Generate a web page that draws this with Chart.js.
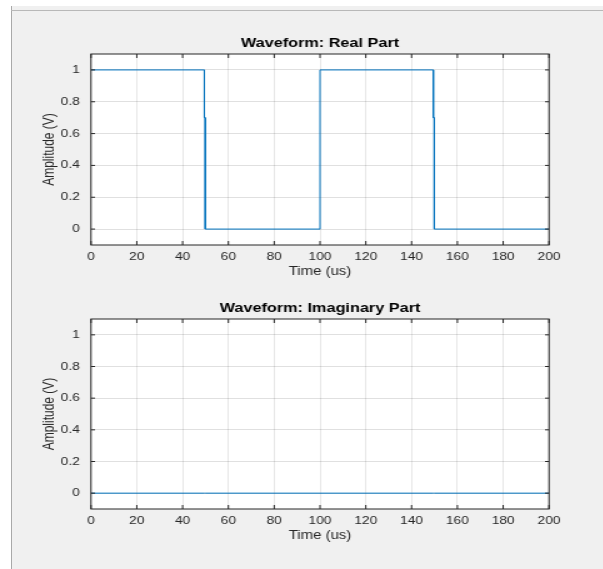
<!DOCTYPE html>
<html>
<head>
<meta charset="utf-8">
<script src="https://cdn.jsdelivr.net/npm/chart.js@4/dist/chart.umd.min.js"></script>
<style>
  html, body { margin: 0; padding: 0; background: #ffffff; width: 603px; height: 569px; overflow: hidden; position: relative; }
  #frame { position: absolute; left: 11px; top: 6px; width: 592px; height: 563px; background: #f0f0f0; border-left: 1px solid #a9a9a9; box-sizing: border-box; }
  #topline { position: absolute; left: 11px; top: 10px; width: 592px; height: 1px; background: #b8b8b8; }
  .wrap { position: absolute; left: 0; transform: scaleX(1.25); transform-origin: 0 0; }
  #w1 { top: 0; width: 483px; height: 285px; }
  #w2 { top: 285px; width: 483px; height: 284px; }
</style>
</head>
<body>
<div id="frame"></div>
<div id="topline"></div>
<div class="wrap" id="w1"><canvas id="c1" width="483" height="285"></canvas></div>
<div class="wrap" id="w2"><canvas id="c2" width="483" height="284"></canvas></div>
<script>
// ---- data ----
const timeUs   = [0, 49.5, 49.5, 49.9, 49.9, 100, 100, 149.5, 149.5, 149.9, 149.9, 200];
const realPart = [1, 1,    0.7,  0.7,  0,    0,   1,   1,     0.7,   0.7,   0,     0];
const imagPart = [0, 0,    0,    0,    0,    0,   0,   0,     0,     0,     0,     0];
const xTicks = [0, 20, 40, 60, 80, 100, 120, 140, 160, 180, 200];
const yTicks = [0, 0.2, 0.4, 0.6, 0.8, 1];
const chartTitles = ['Waveform: Real Part', 'Waveform: Imaginary Part'];
const xAxisTitle = 'Time (us)';
const yAxisTitle = 'Amplitude (V)';

const FONT = '"Liberation Sans", Arial, Helvetica, sans-serif';
const AXC = '#262626';

const plotDeco = {
  id: 'plotDeco',
  beforeDraw(chart) {
    const {ctx, chartArea: a} = chart;
    ctx.save();
    ctx.fillStyle = '#ffffff';
    ctx.fillRect(a.left, a.top, a.right - a.left, a.bottom - a.top);
    ctx.restore();
  },
  afterDraw(chart, args, opts) {
    const {ctx, chartArea: a, scales} = chart;
    ctx.save();
    ctx.strokeStyle = AXC;
    ctx.lineWidth = 1;
    ctx.strokeRect(a.left, a.top, a.right - a.left, a.bottom - a.top);
    ctx.beginPath();
    const tl = 4;
    scales.x.ticks.forEach(t => {
      const px = scales.x.getPixelForValue(t.value);
      ctx.moveTo(px, a.bottom); ctx.lineTo(px, a.bottom - tl);
      ctx.moveTo(px, a.top); ctx.lineTo(px, a.top + tl);
    });
    scales.y.ticks.forEach(t => {
      const py = scales.y.getPixelForValue(t.value);
      ctx.moveTo(a.left, py); ctx.lineTo(a.left + tl * 0.8, py);
      ctx.moveTo(a.right, py); ctx.lineTo(a.right - tl * 0.8, py);
    });
    ctx.stroke();
    ctx.fillStyle = '#000000';
    ctx.font = 'bold 13px ' + FONT;
    ctx.textAlign = 'center';
    ctx.textBaseline = 'middle';
    ctx.fillText(opts.title, (a.left + a.right) / 2, a.top - 11);
    ctx.restore();
  }
};

function makeChart(id, yValues, title, pad) {
  const pts = timeUs.map((t, i) => ({x: t, y: yValues[i]}));
  return new Chart(document.getElementById(id), {
    type: 'line',
    data: { datasets: [{ data: pts, borderColor: '#0072BD', borderWidth: 1, pointRadius: 0, tension: 0, fill: false }] },
    plugins: [plotDeco],
    options: {
      responsive: false,
      animation: false,
      events: [],
      layout: { padding: pad },
      plugins: { legend: { display: false }, tooltip: { enabled: false }, title: { display: false }, plotDeco: { title: title } },
      scales: {
        x: {
          type: 'linear', min: 0, max: 200,
          afterBuildTicks: s => { s.ticks = xTicks.map(v => ({value: v})); },
          afterFit: s => { s.height = 40; },
          ticks: { autoSkip: false, maxRotation: 0, padding: 5, color: AXC, font: { family: FONT, size: 11 }, callback: v => String(v) },
          grid: { color: 'rgba(0,0,0,0.12)', drawTicks: false, lineWidth: 0.8 },
          border: { display: false },
          title: { display: true, text: xAxisTitle, color: AXC, font: { family: FONT, size: 12 }, padding: { top: 0, bottom: 6 } }
        },
        y: {
          type: 'linear', min: -0.1, max: 1.1,
          afterBuildTicks: s => { s.ticks = yTicks.map(v => ({value: v})); },
          afterFit: s => { s.width = 72.8; },
          ticks: { padding: 9, color: AXC, font: { family: FONT, size: 11 }, callback: v => String(v) },
          grid: { color: 'rgba(0,0,0,0.12)', drawTicks: false, lineWidth: 1 },
          border: { display: false },
          title: { display: true, text: yAxisTitle, color: AXC, font: { family: FONT, size: 12 }, padding: { top: 32, bottom: 0 } }
        }
      }
    }
  });
}

makeChart('c1', realPart, chartTitles[0], { left: 0, right: 43.8, top: 54, bottom: 0 });
makeChart('c2', imagPart, chartTitles[1], { left: 0, right: 43.8, top: 34, bottom: 20 });
</script>
</body>
</html>
